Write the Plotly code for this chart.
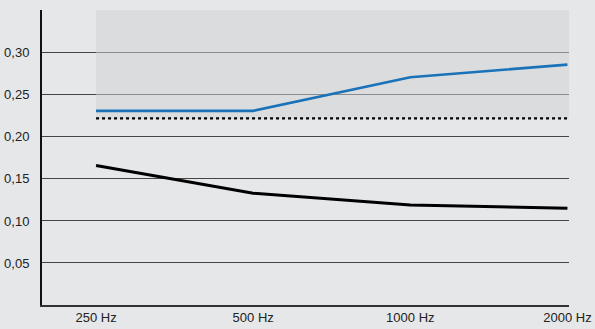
import plotly.graph_objects as go

# frequências e valores
freqs = ['250 Hz', '500 Hz', '1000 Hz', '2000 Hz']
azul = [0.231, 0.231, 0.271, 0.286]
preto = [0.166, 0.133, 0.119, 0.115]
limite = 0.222

y_ticks = [0.05, 0.10, 0.15, 0.20, 0.25, 0.30]
y_labels = ['0,05', '0,10', '0,15', '0,20', '0,25', '0,30']

x_pos = list(range(len(freqs)))

fig = go.Figure()

fig.add_trace(go.Scatter(x=x_pos, y=azul, mode='lines',
                         line=dict(color='#1a72b8', width=2.6)))
fig.add_trace(go.Scatter(x=x_pos, y=preto, mode='lines',
                         line=dict(color='#000000', width=3)))
# linha pontilhada de referência
fig.add_trace(go.Scatter(x=[x_pos[0], x_pos[-1] + 0.01], y=[limite, limite], mode='lines',
                         line=dict(color='#000000', width=2.2, dash='dot')))

# área sombreada acima do limite
fig.add_shape(type='rect', xref='x', yref='y', x0=x_pos[0], x1=x_pos[-1] + 0.01,
              y0=limite, y1=0.351, fillcolor='#d0d1d4', opacity=0.5,
              line=dict(width=0), layer='between')

fig.update_xaxes(range=[-0.344, 3.01], tickvals=x_pos, ticktext=freqs,
                 showgrid=False, zeroline=False, showline=True,
                 linecolor='#333333', linewidth=1.5, ticks='', automargin=False,
                 tickfont=dict(size=13, color='#222222'))
fig.update_yaxes(range=[0, 0.351], tickvals=y_ticks, ticktext=y_labels,
                 showgrid=True, gridcolor='#454545', gridwidth=1.3,
                 zeroline=False, showline=True, linecolor='#111111', linewidth=2,
                 ticks='', ticklabelstandoff=8, automargin=False,
                 tickfont=dict(size=13, color='#222222'))

fig.update_layout(
    width=595, height=329,
    margin=dict(l=42, r=26, t=10, b=24),
    paper_bgcolor='#e6e7e9',
    plot_bgcolor='#e6e7e9',
    showlegend=False,
    font=dict(family='Liberation Sans, Arial, sans-serif')
)

config = {'displayModeBar': False}
# sem margem da página para o gráfico ficar no canto
fig.write_html("out.html", config=config, post_script="document.body.style.margin='0';")
